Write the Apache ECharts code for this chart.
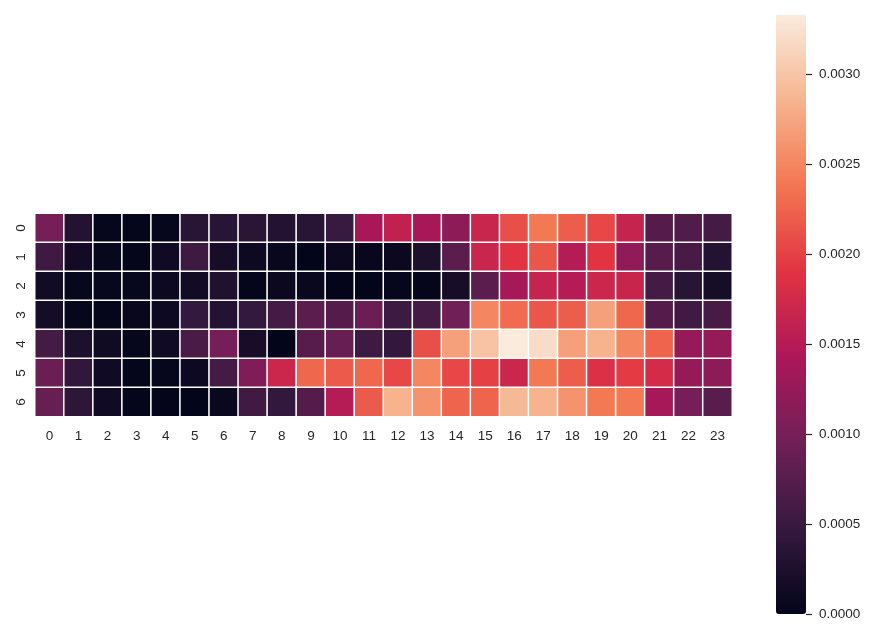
<!DOCTYPE html>
<html>
<head>
<meta charset="utf-8">
<script src="https://cdn.jsdelivr.net/npm/echarts@6/dist/echarts.min.js"></script>
<style>
html,body{margin:0;padding:0;background:#fff;}
#chart{width:886px;height:643px;}
</style>
</head>
<body>
<div id="chart"></div>
<script>
const xCategories = ['0','1','2','3','4','5','6','7','8','9','10','11','12','13','14','15','16','17','18','19','20','21','22','23'];
const yCategories = ['0','1','2','3','4','5','6'];
const row0 = [0.00100,0.00030,0.00003,0.00002,0.00003,0.00035,0.00035,0.00037,0.00030,0.00035,0.00050,0.00140,0.00160,0.00138,0.00118,0.00168,0.00210,0.00240,0.00220,0.00205,0.00165,0.00073,0.00070,0.00060];
const row1 = [0.00055,0.00015,0.00004,0.00002,0.00013,0.00055,0.00020,0.00010,0.00005,0.00000,0.00008,0.00005,0.00008,0.00025,0.00078,0.00168,0.00190,0.00215,0.00150,0.00190,0.00120,0.00075,0.00063,0.00030];
const row2 = [0.00014,0.00004,0.00004,0.00004,0.00010,0.00015,0.00028,0.00002,0.00008,0.00006,0.00001,0.00000,0.00003,0.00002,0.00020,0.00078,0.00138,0.00165,0.00150,0.00170,0.00167,0.00060,0.00035,0.00018];
const row3 = [0.00017,0.00003,0.00002,0.00005,0.00010,0.00047,0.00030,0.00047,0.00060,0.00078,0.00073,0.00090,0.00053,0.00060,0.00095,0.00250,0.00230,0.00215,0.00220,0.00270,0.00228,0.00073,0.00057,0.00062];
const row4 = [0.00060,0.00025,0.00012,0.00003,0.00013,0.00065,0.00100,0.00020,0.00000,0.00075,0.00087,0.00053,0.00045,0.00210,0.00270,0.00298,0.00333,0.00320,0.00270,0.00285,0.00250,0.00225,0.00125,0.00123];
const row5 = [0.00090,0.00043,0.00013,0.00002,0.00003,0.00010,0.00060,0.00108,0.00170,0.00228,0.00218,0.00228,0.00205,0.00250,0.00205,0.00200,0.00170,0.00240,0.00220,0.00185,0.00195,0.00178,0.00125,0.00118];
const row6 = [0.00087,0.00040,0.00013,0.00002,0.00001,0.00000,0.00007,0.00057,0.00045,0.00073,0.00150,0.00218,0.00285,0.00260,0.00225,0.00225,0.00290,0.00285,0.00260,0.00240,0.00240,0.00138,0.00100,0.00076];
const rows = [row0,row1,row2,row3,row4,row5,row6];
const colorbarTickStep = 0.0005;
const vMin = 0, vMax = 0.00333;

const rocket = ['#03051a','#35193e','#701f57','#ad1759','#e13342','#f37651','#f6b48f','#faebdd'];

const data = [];
rows.forEach((r, yi) => r.forEach((v, xi) => data.push([xi, yi, v])));

// colorbar geometry
const cbTop = 15, cbBottom = 614, cbLeft = 776, cbWidth = 30;
const cbHeight = cbBottom - cbTop;
const axisMax = 0.0035; // extend axis beyond vMax so no tick is drawn at the colorbar top
const axisHeight = cbHeight * axisMax / vMax;

const textColor = '#262626';
const font = 'Liberation Sans, Arial, sans-serif';
const chart = echarts.init(document.getElementById('chart'), null, {renderer: 'canvas'});
chart.setOption({
  animation: false,
  backgroundColor: '#fff',
  grid: [
    {left: 35, top: 213.5, width: 697, height: 203, containLabel: false, outerBoundsMode: 'none'},
    {left: cbLeft, top: cbBottom - axisHeight, width: cbWidth, height: axisHeight, containLabel: false, outerBoundsMode: 'none'}
  ],
  xAxis: [
    {type: 'category', gridIndex: 0, data: xCategories, position: 'bottom',
     axisLine: {show: false}, axisTick: {show: false}, splitLine: {show: false},
     axisLabel: {color: textColor, fontSize: 13.5, fontFamily: font, margin: 13}},
    {type: 'value', gridIndex: 1, show: false, min: 0, max: 1}
  ],
  yAxis: [
    {type: 'category', gridIndex: 0, data: yCategories, inverse: true,
     axisLine: {show: false}, axisTick: {show: false}, splitLine: {show: false},
     axisLabel: {color: textColor, fontSize: 13.5, fontFamily: font, margin: 7, rotate: 90}},
    {type: 'value', gridIndex: 1, position: 'right', min: vMin, max: axisMax, interval: colorbarTickStep,
     axisLine: {show: true, onZero: false, lineStyle: {color: 'rgba(0,0,0,0)'}}, splitLine: {show: false},
     axisTick: {show: true, inside: false, length: 6, lineStyle: {color: textColor, width: 1.2}},
     axisLabel: {color: textColor, fontSize: 13.5, fontFamily: font, margin: 13, showMaxLabel: false,
       formatter: v => v.toFixed(4)}}
  ],
  visualMap: {
    type: 'continuous', min: vMin, max: vMax, calculable: false, show: true,
    left: cbLeft, top: cbTop, itemWidth: cbWidth, itemHeight: cbHeight, padding: 0,
    showLabel: false, hoverLink: false, z: 1,
    inRange: {color: rocket}, seriesIndex: 0
  },
  series: [{
    type: 'heatmap', xAxisIndex: 0, yAxisIndex: 0, data: data,
    itemStyle: {borderColor: '#ffffff', borderWidth: 1.5},
    emphasis: {disabled: true}
  }]
});
</script>
</body>
</html>
